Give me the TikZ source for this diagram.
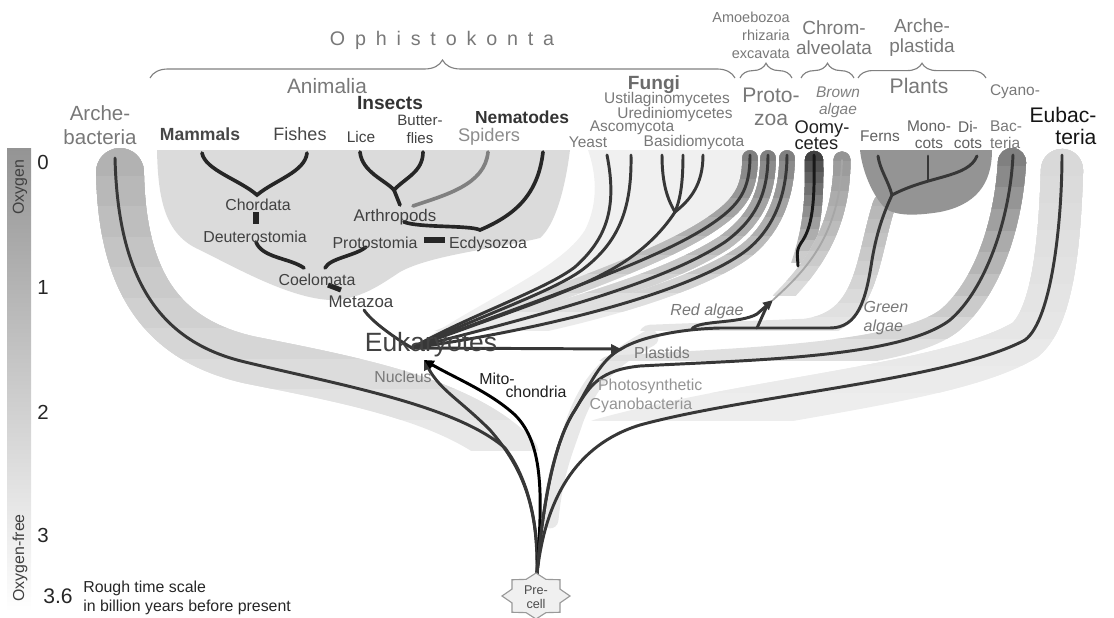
\documentclass[tikz,border=0pt]{standalone}
\usepackage{fontspec}
\setmainfont{Liberation Sans}
\newfontfamily\spacedfont[LetterSpace=50]{Liberation Sans}
\usetikzlibrary{positioning,arrows.meta,calc,decorations.pathreplacing}
\newcommand{\fsz}[2]{\fontsize{#1}{#2}\selectfont}
\newcommand{\fband}[6]{%
  % #1 width, #2 top shade, #3 bottom shade, #4 y top, #5 y bottom, #6 path
  \foreach \k in {0,...,9}{%
    \pgfmathsetmacro{\sh}{#3+(#2-#3)*\k/9}%
    \pgfmathsetmacro{\yc}{#5-(#5-#4)*\k/9}%
    \begin{scope}
      \clip (0,0) rectangle (1114,\yc);
      \draw[line cap=round, line width=#1, draw=black!\sh] #6;
    \end{scope}
  }%
}

\begin{document}
\begin{tikzpicture}[x=0.025cm, y=-0.025cm,
  br/.style={line width=2.1pt, draw=linecol, line cap=round},
  thk/.style={line width=2.6pt, draw=black!85, line cap=round},
  bar/.style={line width=3.6pt, draw=black!85},
  lite/.style={line width=1.3pt, draw=black!35, line cap=round},
  arr/.style={-{Triangle[length=7pt, width=6.5pt]}},
  brc/.style={decorate, decoration={brace, amplitude=#1}, draw=black!50, line width=0.8pt},
  lab/.style={inner sep=0pt, align=center, text=labcol, font=\fsz{11.3}{13}},
  glab/.style={lab, text=greycol}]

\definecolor{linecol}{RGB}{55,55,55}
\definecolor{labcol}{RGB}{65,65,65}
\definecolor{greycol}{RGB}{120,120,120}

\useasboundingbox (0,0) rectangle (1114,618);

% ===== TIME SCALE =====
\shade[top color=black!42, middle color=black!12, bottom color=white] (7,148) rectangle (31,612);
\node[lab, rotate=90, text=black!75] (oxy) at (20,187) {Oxygen};
\node[lab, rotate=90, text=black!75] (oxyfree) at (20,558) {Oxygen-free};
\node[lab, font=\fsz{14.5}{16}, text=black!85] (y0) at (43,162) {0};
\node[lab, font=\fsz{14.5}{16}, text=black!85] (y1) at (43,287) {1};
\node[lab, font=\fsz{14.5}{16}, text=black!85] (y2) at (43,412) {2};
\node[lab, font=\fsz{14.5}{16}, text=black!85] (y3) at (43,535) {3};
\node[lab, font=\fsz{15}{16}, text=black!85] (y36) at (58,596) {3.6};
\node[lab, align=left, anchor=west, text=black!85, font=\fsz{11.3}{13.5}] (scale) at (83,598) {Rough time scale\\in billion years before present};

% ===== BANDS =====
\fill[black!6] (588,150) -- (748,150) .. controls (745,220) and (680,260) .. (560,300) .. controls (480,325) and (440,340) .. (412,348) .. controls (480,300) and (560,270) .. (585,230) .. controls (600,200) and (595,170) .. cycle; % fungi
\fill[black!14] (157,150) -- (570,150) .. controls (565,190) and (555,225) .. (540,238) .. controls (500,248) and (430,255) .. (400,272) .. controls (380,285) and (360,300) .. (330,300) .. controls (290,298) and (240,270) .. (200,250) .. controls (165,235) and (158,200) .. cycle; % animalia
\fband{34pt}{30}{9}{175}{450}{(120,172) .. controls (122,280) and (160,340) .. (250,360) .. controls (350,380) and (460,400) .. (515,455)}
\fband{30pt}{15}{7}{175}{420}{(1062,170) .. controls (1060,230) and (1055,315) .. (1025,340) .. controls (950,385) and (750,398) .. (600,440)}
\draw[line cap=round, line width=12pt, draw=black!9] (650,338) .. controls (610,360) and (590,380) .. (575,420) .. controls (565,450) and (555,470) .. (550,520);
\fband{20pt}{50}{12}{165}{360}{(1012,162) .. controls (1008,230) and (985,290) .. (950,320) .. controls (900,360) and (720,362) .. (610,370)}
\fband{16pt}{30}{10}{205}{330}{(884,205) .. controls (866,262) and (868,322) .. (805,330) -- (650,336)}
\fill[black!42] (860,150) -- (992,150) .. controls (992,185) and (975,205) .. (940,212) .. controls (915,216) and (895,216) .. (885,208) .. controls (872,195) and (862,170) .. cycle; % plants
\fband{11pt}{50}{8}{160}{330}{(750,158) .. controls (750,190) and (740,205) .. (710,225) .. controls (650,265) and (520,305) .. (412,348)}
\fband{11pt}{50}{8}{160}{330}{(768,158) .. controls (768,195) and (755,220) .. (725,242) .. controls (660,285) and (530,318) .. (412,348)}
\fband{11pt}{50}{8}{160}{330}{(787,158) .. controls (787,200) and (770,235) .. (740,255) .. controls (680,295) and (540,330) .. (412,348)}
\fband{13pt}{74}{20}{160}{262}{(814,160) .. controls (815,210) and (810,235) .. (800,265)} % oomycetes
\fband{12pt}{42}{14}{160}{295}{(842,160) .. controls (842,230) and (810,270) .. (780,300)} % brown algae

% ===== KEY POINTS =====
\coordinate (pctop) at (537,574);
\coordinate (euk) at (412,348);
\coordinate (nuctip) at (424,360);
\coordinate (plast) at (621,349);
\coordinate (rtip) at (773,300);
\coordinate (pj) at (892,195);
\coordinate (bj) at (675,212);

% ===== BRANCHES FROM PRE-CELL =====
\draw[br] (pctop) .. controls (539,525) and (528,478) .. (505,448) .. controls (455,405) and (340,385) .. (245,362) .. controls (160,342) and (118,280) .. (115,158);
\draw[br, arr] (pctop) .. controls (538,510) and (525,470) .. (490,430) .. controls (460,400) and (440,390) .. (nuctip);
\draw[br, arr, draw=black] (pctop) .. controls (542,500) and (545,445) .. (515,415) .. controls (490,392) and (455,378) .. (nuctip);
\draw[br] (pctop) .. controls (543,500) and (555,440) .. (575,410) .. controls (590,385) and (600,360) .. (plast);
\draw[br] (pctop) .. controls (543,500) and (555,440) .. (575,410) .. controls (590,385) and (600,370) .. (640,366) .. controls (750,360) and (900,358) .. (950,320) .. controls (985,290) and (1010,220) .. (1013,155);
\draw[br] (pctop) .. controls (545,500) and (575,445) .. (640,425) .. controls (750,395) and (950,380) .. (1025,340) .. controls (1052,320) and (1062,220) .. (1062,155);

% ===== PLASTIDS / PLANTS =====
\draw[br, arr] (euk) -- (plast);
\draw[br] (plast) .. controls (640,337) and (680,329) .. (720,328) -- (830,328) .. controls (858,328) and (866,300) .. (872,260) .. controls (877,230) and (885,210) .. (pj);
\draw[br] (pj) .. controls (888,180) and (880,170) .. (878,156);
\draw[br] (pj) .. controls (930,175) and (968,178) .. (977,156);
\draw[br] (928,156) -- (928,180);
\draw[br, arr] (692,329) .. controls (698,320) and (740,324) .. (757,314) -- (rtip);
\draw[br] (757,328) -- (766,308);
\draw[lite] (rtip) .. controls (800,275) and (840,240) .. (842,160);
\draw[br, draw=black!90] (814,155) .. controls (815,205) and (812,228) .. (801,243) .. controls (795,252) and (798,258) .. (798,266);

% ===== PROTOZOA / FUNGI =====
\draw[br] (euk) .. controls (520,305) and (650,265) .. (710,225) .. controls (740,205) and (750,190) .. (750,155);
\draw[br] (euk) .. controls (530,318) and (660,285) .. (725,242) .. controls (755,220) and (768,195) .. (768,155);
\draw[br] (euk) .. controls (540,330) and (680,295) .. (740,255) .. controls (770,235) and (787,200) .. (787,155);
\draw[br] (euk) .. controls (470,315) and (545,290) .. (575,267) .. controls (605,240) and (618,210) .. (607,155);
\draw[br] (euk) .. controls (475,318) and (552,292) .. (582,270) .. controls (618,243) and (632,210) .. (631,155);
\draw[br] (euk) .. controls (480,322) and (565,295) .. (605,273) .. controls (640,255) and (662,232) .. (bj);
\draw[br] (bj) .. controls (668,200) and (662,185) .. (662,155);
\draw[br] (bj) .. controls (680,200) and (683,185) .. (683,155);
\draw[br] (bj) .. controls (690,200) and (703,185) .. (703,155);

% ===== ANIMALIA =====
\draw[br] (euk) .. controls (395,338) and (372,322) .. (364,310);
\draw[thk] (202,153) .. controls (205,170) and (240,180) .. (257,195) .. controls (275,180) and (305,172) .. (307,153);
\draw[bar] (256,212) -- (256,224);
\draw[thk] (256,242) .. controls (262,258) and (290,258) .. (304,268);
\draw[thk] (366,247) .. controls (355,256) and (330,258) .. (325,268);
\draw[bar] (328,285) -- (341,290);
\draw[thk] (360,152) .. controls (362,172) and (385,180) .. (394,190) .. controls (405,178) and (423,172) .. (423,152);
\draw[thk] (394,190) -- (400,205);
\draw[thk, draw=black!50] (488,152) .. controls (485,185) and (445,195) .. (413,206);
\draw[thk] (543,152) .. controls (538,195) and (515,215) .. (480,230) .. controls (470,225) and (420,228) .. (404,222);
\draw[bar] (424,240) -- (445,240);

% ===== PRE-CELL =====
\begin{scope}[shift={(536,596)}]
  \draw[fill=black!6, draw=black!40, line width=0.8pt] (0:34 and 23) \foreach \a in {22.5,67.5,...,337.5} { -- (\a:26 and 18) -- ({\a+22.5}:34 and 23) } -- cycle;
\end{scope}
\node[lab, font=\fsz{9}{10}, text=black!70] (precell) at (536,597) {Pre-\\cell};

% ===== GROUP LABELS =====
\node[glab, font=\spacedfont\fsz{14}{16}] (ophi) at (442,40) {Ophistokonta};
\draw[brc=0.45cm] (150,78) -- (735,78);
\draw[brc=0.37cm] (740,78) -- (792,78);
\draw[brc=0.37cm] (801,78) -- (854,78);
\draw[brc=0.37cm] (858,78) -- (986,78);
\node[glab, align=right, anchor=east, font=\fsz{10.3}{12.8}] (amoeba) at (790,35) {Amoebozoa\\rhizaria\\excavata};
\node[glab, font=\fsz{13.5}{14.2}] (chrom) at (834,38) {Chrom-\\alveolata};
\node[glab, font=\fsz{13.5}{14.2}] (archpl) at (922,38) {Arche-\\plastida};

% ===== TOP LABELS =====
\node[glab, font=\fsz{14.6}{17.5}] (archbac) at (100,125) {Arche-\\bacteria};
\node[glab, font=\fsz{14.8}{16}] (animalia) at (327,86) {Animalia};
\node[lab, font=\bfseries\fsz{13.6}{15}, text=black!80] (insects) at (390,103) {Insects};
\node[lab, font=\bfseries\fsz{12.5}{14}, text=black!72] (mammals) at (200,134) {Mammals};
\node[lab, font=\fsz{12.8}{14}, text=black!72] (fishes) at (300,134) {Fishes};
\node[lab, font=\fsz{11}{13}] (lice) at (361,137) {Lice};
\node[lab, font=\fsz{10.7}{12.8}] (butter) at (420,129) {Butter-\\flies};
\node[lab, font=\bfseries\fsz{12.4}{14}, text=black!80] (nematodes) at (522,117) {Nematodes};
\node[lab, font=\fsz{13}{14}, text=black!45] (spiders) at (489,137) {Spiders};
\node[lab, font=\bfseries\fsz{13.6}{15}, text=black!58] (fungi) at (654,85) {Fungi};
\node[glab, font=\fsz{11}{13}] (ustil) at (667,100) {Ustilaginomycetes};
\node[glab, font=\fsz{11}{13}] (uredo) at (675,114) {Urediniomycetes};
\node[glab, font=\fsz{11}{13}] (asco) at (632,128) {Ascomycota};
\node[glab, font=\fsz{11}{13}] (yeast) at (588,142) {Yeast};
\node[glab, font=\fsz{11}{13}] (basidio) at (694,142) {Basidiomycota};
\node[glab, font=\fsz{15}{16.4}] (protozoa) at (771,107) {Proto-\\zoa};
\node[glab, font=\itshape\fsz{11}{12}, text=black!50] (brown) at (838,102) {Brown\\algae};
\node[lab, font=\fsz{13}{11.5}, text=black!88, align=left] (oomy) at (822,135) {Oomy-\\cetes};
\node[glab, font=\fsz{15}{16}] (plants) at (919,86) {Plants};
\node[lab, font=\fsz{11}{12}, text=black!62] (ferns) at (880,136) {Ferns};
\node[lab, font=\fsz{11}{12}, text=black!62] (monocots) at (929,135) {Mono-\\cots};
\node[lab, font=\fsz{11}{12}, text=black!62] (dicots) at (968,135) {Di-\\cots};
\node[glab, font=\fsz{11}{12}] (cyano) at (1015,92) {Cyano-};
\node[glab, font=\fsz{11}{12}, align=left] (bacteria) at (1006,135) {Bac-\\teria};
\node[lab, font=\fsz{15}{15.6}, text=black!92, align=right] (eubac) at (1063,126) {Eubac-\\teria};

% ===== TREE LABELS =====
\node[lab] (chordata) at (258,205) {Chordata};
\node[lab] (deutero) at (255,237) {Deuterostomia};
\node[lab, font=\fsz{12}{13}] (arthro) at (395,217) {Arthropods};
\node[lab] (protost) at (375,243) {Protostomia};
\node[lab] (ecdy) at (488,244) {Ecdysozoa};
\node[lab] (coelo) at (317,280) {Coelomata};
\node[lab, font=\fsz{12}{13}] (metazoa) at (361,302) {Metazoa};
\node[lab, font=\fsz{18.8}{20}, text=black!74] (eukaryotes) at (431,345) {Eukaryotes};
\node[glab] (nucleus) at (403,377) {Nucleus};
\node[lab, text=black!88] (mito) at (497,379) {Mito-};
\node[lab, text=black!88] (chondria) at (536,392) {chondria};
\node[glab] (plastids) at (662,353) {Plastids};
\node[glab, text=black!42, align=left] (photo) at (646,396) {\hspace*{6pt}Photosynthetic\\Cyanobacteria};
\node[glab, font=\itshape\fsz{11.4}{13}] (redalg) at (707,311) {Red algae};
\node[glab, font=\itshape\fsz{11.4}{13.5}, align=left] (greenalg) at (886,318) {Green\\algae};

\end{tikzpicture}
\end{document}
